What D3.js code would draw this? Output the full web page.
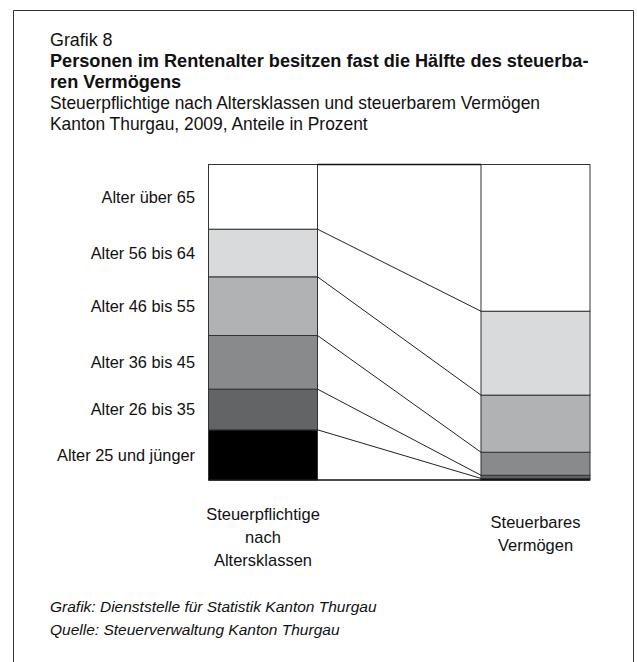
<!DOCTYPE html>
<html>
<head>
<meta charset="utf-8">
<script src="https://cdn.jsdelivr.net/npm/d3@7"></script>
<style>
  body { margin: 0; background: #fff; }
  svg text { font-family: "Liberation Sans Narrow", "Arial Narrow", "Liberation Sans", sans-serif; fill: #111; }
</style>
</head>
<body>
<div id="chart-area"></div>
<script>
// data (shares in percent)
const ageClasses = ['Alter 25 und jünger', 'Alter 26 bis 35', 'Alter 36 bis 45', 'Alter 46 bis 55', 'Alter 56 bis 64', 'Alter über 65']
const sharePersons = [15.9, 12.9, 17.0, 18.6, 15.1, 20.5]
const shareWealth = [0.5, 1.0, 7.3, 18.1, 26.6, 46.5]
const columns = ['persons', 'wealth']
const columnLabels = [['Steuerpflichtige', 'nach', 'Altersklassen'], ['Steuerbares', 'Vermögen']]
const titleLines = ['Personen im Rentenalter besitzen fast die Hälfte des steuerba-', 'ren Vermögens']
const subtitleLines = ['Steuerpflichtige nach Altersklassen und steuerbarem Vermögen', 'Kanton Thurgau, 2009, Anteile in Prozent']
const sourceLines = ['Grafik: Dienststelle für Statistik Kanton Thurgau', 'Quelle: Steuerverwaltung Kanton Thurgau']

const colors = ['#000000', '#636466', '#898a8c', '#b1b2b4', '#d9dadc', '#ffffff']

const W = 637, H = 662

let svg = d3.select('#chart-area')
  .append('svg')
  .attr('width', W)
  .attr('height', H)

// squeeze text a bit horizontally, the original uses a condensed face
function squeeze(sel, f) {
  sel.each(function () {
    let len = this.getComputedTextLength()
    d3.select(this)
      .attr('textLength', len * f)
      .attr('lengthAdjust', 'spacingAndGlyphs')
  })
}

// outer frame (open at the bottom)
svg.append('path')
  .attr('d', 'M13.5,' + H + 'V10.5H633.5V' + H)
  .attr('fill', 'none')
  .attr('stroke', '#333')
  .attr('stroke-width', 1)

// heading
svg.append('text')
  .attr('x', 50).attr('y', 46)
  .attr('font-size', 19)
  .text('Grafik 8')
  .call(squeeze, 0.94)

titleLines.forEach((t, i) => {
  svg.append('text')
    .attr('x', 50).attr('y', 67 + i * 21)
    .attr('font-size', 19)
    .attr('font-weight', 'bold')
    .text(t)
    .call(squeeze, 0.955)
})

subtitleLines.forEach((t, i) => {
  svg.append('text')
    .attr('x', 50).attr('y', 109 + i * 21)
    .attr('font-size', 19)
    .text(t)
    .call(squeeze, 0.915)
})

// scales
let x = d3.scaleBand()
  .domain(columns)
  .range([208.5, 590])
  .paddingInner(0.6)

let y = d3.scaleLinear()
  .domain([0, 100])
  .range([480, 164.5])

// stacked values per column
let rows = columns.map((c, j) => {
  let vals = j == 0 ? sharePersons : shareWealth
  let acc = 0
  return vals.map((v, i) => {
    let seg = { col: c, cls: ageClasses[i], y0: acc, y1: acc + v, i: i }
    acc += v
    return seg
  })
})

let g = svg.append('g')

rows.forEach(segs => {
  g.selectAll(null)
    .data(segs)
    .enter()
    .append('rect')
    .attr('x', d => x(d.col))
    .attr('width', x.bandwidth())
    .attr('y', d => y(d.y1))
    .attr('height', d => y(d.y0) - y(d.y1))
    .attr('fill', (d) => colors[d.i])
    .attr('stroke', '#333')
    .attr('stroke-width', 1)
})

// middle frame
let xl = x('persons') + x.bandwidth(), xr = x('wealth')
g.append('line')
  .attr('x1', xl).attr('x2', xr)
  .attr('y1', y(100)).attr('y2', y(100))
  .attr('stroke', '#111')
  .attr('stroke-width', 1.3)
g.append('line')
  .attr('x1', x('persons')).attr('x2', xr + x.bandwidth())
  .attr('y1', y(0)).attr('y2', y(0))
  .attr('stroke', '#111')
  .attr('stroke-width', 1.5)

// connectors between the cumulative boundaries
let bounds = d3.range(1, ageClasses.length).map(k => ({
  left: d3.sum(sharePersons.slice(0, k)),
  right: d3.sum(shareWealth.slice(0, k))
}))
g.selectAll('.conn')
  .data(bounds)
  .enter()
  .append('line')
  .attr('class', 'conn')
  .attr('x1', xl).attr('y1', d => y(d.left))
  .attr('x2', xr).attr('y2', d => y(d.right))
  .attr('stroke', '#222')
  .attr('stroke-width', 1)

// category labels
g.selectAll('.cat')
  .data(rows[0])
  .enter()
  .append('text')
  .attr('class', 'cat')
  .attr('x', 195)
  .attr('y', d => y((d.y0 + d.y1) / 2) + 6)
  .attr('text-anchor', 'end')
  .attr('font-size', 17)
  .text(d => d.cls)
  .call(squeeze, 0.96)

// column labels
columnLabels.forEach((lines, j) => {
  let top = j == 0 ? 520 : 528
  lines.forEach((t, i) => {
    svg.append('text')
      .attr('x', x(columns[j]) + x.bandwidth() / 2)
      .attr('y', top + i * 23)
      .attr('text-anchor', 'middle')
      .attr('font-size', 17)
      .text(t)
      .call(squeeze, 0.97)
  })
})

// source
sourceLines.forEach((t, i) => {
  svg.append('text')
    .attr('x', 50).attr('y', 612 + i * 23)
    .attr('font-size', 15.5)
    .attr('font-style', 'italic')
    .text(t)
})
</script>
</body>
</html>
